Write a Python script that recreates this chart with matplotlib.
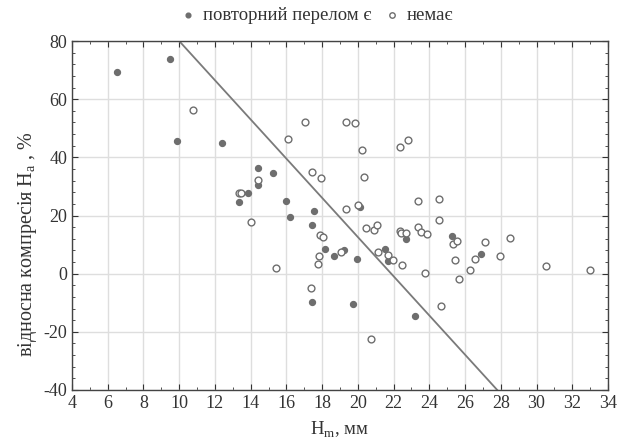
import numpy as np
import matplotlib
matplotlib.use("Agg")
import matplotlib.pyplot as plt
from matplotlib.ticker import MultipleLocator

plt.rcParams['font.family'] = ['Liberation Serif', 'DejaVu Serif']
plt.rcParams['mathtext.fontset'] = 'custom'
plt.rcParams['mathtext.rm'] = 'Liberation Serif'
plt.rcParams['axes.unicode_minus'] = False

# повторний перелом є (filled)
yes_x = [6.5, 9.5, 9.9, 12.4, 14.4, 14.4, 13.85, 13.35, 15.25, 16.0, 16.2, 17.55, 20.1,
         17.45, 18.15, 18.65, 19.2, 19.95, 21.5, 21.7, 22.7, 25.25, 26.9, 19.75, 23.2, 17.45]
yes_y = [69.3, 73.7, 45.7, 45.0, 36.2, 30.5, 27.6, 24.5, 34.7, 24.9, 19.5, 21.5, 23.0,
         16.7, 8.5, 6.2, 8.1, 5.0, 8.5, 4.5, 12.0, 12.9, 6.6, -10.5, -14.5, -9.8]

# немає (open)
no_x = [10.8, 14.4, 13.35, 13.45, 14.0, 15.4, 16.1, 17.05, 19.35, 19.85, 20.25, 22.35, 22.8,
        17.45, 17.95, 20.35, 19.35, 20.0, 17.9, 18.05, 17.85, 17.75, 19.05, 20.45, 20.9, 21.05,
        21.15, 21.7, 21.95, 22.35, 22.4, 22.7, 22.45, 23.35, 24.55, 24.55, 23.35, 23.55, 23.85,
        23.75, 25.35, 25.55, 25.45, 25.65, 26.55, 26.25, 27.1, 28.5, 27.95, 30.55, 33.0,
        17.35, 24.65, 20.75]
no_y = [56.4, 32.2, 27.8, 27.8, 17.8, 2.0, 46.2, 52.3, 52.1, 51.9, 42.4, 43.4, 46.0,
        35.0, 32.9, 33.2, 22.1, 23.7, 13.4, 12.7, 6.0, 3.2, 7.3, 15.6, 15.1, 16.8,
        7.3, 6.5, 4.6, 14.8, 14.1, 13.9, 3.1, 24.9, 25.7, 18.3, 15.9, 14.4, 13.5,
        0.3, 10.2, 11.2, 4.7, -1.9, 4.9, 1.4, 10.9, 12.4, 6.1, 2.5, 1.2,
        -4.8, -11.1, -22.5]

# розділяюча лінія
line_x = [10, 27.8]
line_y = [80, -40]

fig = plt.figure(figsize=(6.25, 4.46), dpi=100)
ax = fig.add_axes([0.1152, 0.1256, 0.8576, 0.7824])

gray = '#6e6e6e'
ax.plot(line_x, line_y, color='#7a7a7a', lw=1.3, zorder=2)
ax.scatter(yes_x, yes_y, s=18, color=gray, edgecolors=gray, zorder=3,
           label='повторний перелом є')
ax.scatter(no_x, no_y, s=24, facecolors='white', edgecolors=gray, linewidths=1.0,
           zorder=3, label='немає')

ax.set_xlim(4, 34)
ax.set_ylim(-40, 80)
ax.xaxis.set_major_locator(MultipleLocator(2))
ax.xaxis.set_minor_locator(MultipleLocator(1))
ax.yaxis.set_major_locator(MultipleLocator(20))
ax.yaxis.set_minor_locator(MultipleLocator(4))
ax.grid(True, which='major', color='#dedede', lw=1.0, zorder=0)
ax.set_axisbelow(True)
ax.tick_params(which='both', direction='in', top=True, right=True, colors='#333333',
               labelsize=13, labelcolor='#333333')
ax.tick_params(which='major', length=4)
ax.tick_params(which='minor', length=2)
for sp in ax.spines.values():
    sp.set_color('#444444')
    sp.set_linewidth(1.0)

ax.set_xlabel('H$_\\mathregular{m}$, мм', fontsize=13.5, color='#333333', labelpad=6)
ax.set_ylabel('відносна компресія H$_\\mathregular{a}$ , %', fontsize=14.5, color='#333333')
ax.yaxis.set_label_coords(-0.062, 0.418)

ax.legend(loc='lower center', bbox_to_anchor=(0.455, 1.0), ncol=2, frameon=False,
          fontsize=13.5, handlelength=1.0, handletextpad=0.3, columnspacing=0.6,
          markerscale=0.8, labelcolor='#333333')

fig.savefig('out.png', dpi=100)
